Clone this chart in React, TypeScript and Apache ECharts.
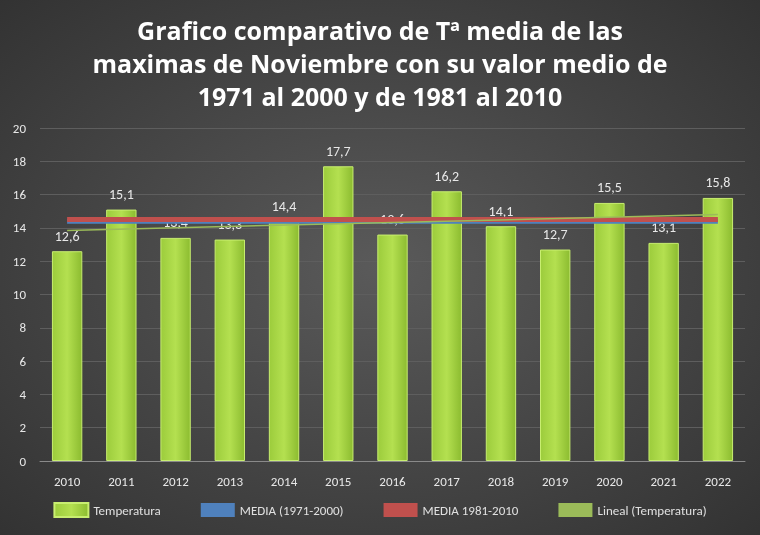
import React, { useEffect, useRef } from "react";
import * as echarts from "echarts";

const years = ["2010","2011","2012","2013","2014","2015","2016","2017","2018","2019","2020","2021","2022"];
const temperatura = [12.6,15.1,13.4,13.3,14.4,17.7,13.6,16.2,14.1,12.7,15.5,13.1,15.8];
const media7100 = [14.4,14.4,14.4,14.4,14.4,14.4,14.4,14.4,14.4,14.4,14.4,14.4,14.4];
const media8110 = [14.5,14.5,14.5,14.5,14.5,14.5,14.5,14.5,14.5,14.5,14.5,14.5,14.5];
const lineal = [13.85,null,null,null,null,null,null,null,null,null,null,null,14.8];

export default function App() {
  const ref = useRef<HTMLDivElement>(null);
  useEffect(() => {
    const chart = echarts.init(ref.current!, null, { renderer: "svg" });
    const font = "Calibri, 'Open Sans', 'Liberation Sans', sans-serif";
    chart.setOption({
      animation: false,
      backgroundColor: {
        type: "radial", x: 0.5, y: 0.5, r: 0.75,
        colorStops: [{ offset: 0, color: "#5a5a5a" }, { offset: 1, color: "#303030" }],
      },
      textStyle: { fontFamily: font },
      title: {
        text: "Grafico comparativo de Tª media de las\nmaximas de Noviembre con su valor medio de\n1971 al 2000 y de 1981 al 2010",
        left: "center", top: 8,
        textStyle: { color: "#ffffff", fontSize: 25, fontWeight: "bold", lineHeight: 33, fontFamily: "'Open Sans', sans-serif" },
      },
      legend: {
        bottom: 12, itemGap: 40, itemWidth: 34,
        textStyle: { color: "#e0e0e0", fontSize: 13 },
        data: [
          { name: "Temperatura", icon: "rect", itemHeight: 8 },
          { name: "MEDIA (1971-2000)", icon: "rect", itemHeight: 4 },
          { name: "MEDIA 1981-2010", icon: "rect", itemHeight: 4 },
          { name: "Lineal (Temperatura)", icon: "rect", itemHeight: 2 },
        ],
      },
      grid: { left: 40, right: 15, top: 128, bottom: 74 },
      xAxis: {
        type: "category", data: years,
        axisLine: { lineStyle: { color: "#8a8a8a" } },
        axisTick: { show: false },
        axisLabel: { color: "#e8e8e8", fontSize: 13, margin: 14 },
      },
      yAxis: {
        type: "value", min: 0, max: 20, interval: 2,
        axisLabel: { color: "#e8e8e8", fontSize: 13, margin: 14 },
        splitLine: { lineStyle: { color: "#5e5e5e" } },
      },
      series: [
        {
          name: "Temperatura", type: "bar", data: temperatura, barWidth: "56%",
          itemStyle: {
            color: {
              type: "linear", x: 0, y: 0, x2: 1, y2: 0,
              colorStops: [{ offset: 0, color: "#9ccc3c" }, { offset: 0.5, color: "#b4e050" }, { offset: 1, color: "#8cbc30" }],
            },
            borderColor: "#c8ee70", borderWidth: 1,
          },
          label: {
            show: true, position: "top", distance: 8, color: "#e8e8e8", fontSize: 14,
            formatter: (p: any) => String(p.value).replace(".", ","),
          },
        },
        {
          name: "MEDIA (1971-2000)", type: "line", data: media7100, symbol: "none", z: 3,
          lineStyle: { color: "#4f81bd", width: 5 }, itemStyle: { color: "#4f81bd" },
        },
        {
          name: "MEDIA 1981-2010", type: "line", data: media8110, symbol: "none", z: 4,
          lineStyle: { color: "#c0504d", width: 5 }, itemStyle: { color: "#c0504d" },
        },
        {
          name: "Lineal (Temperatura)", type: "line", data: lineal, connectNulls: true, symbol: "none", z: 5,
          lineStyle: { color: "#9bbb59", width: 1.5 }, itemStyle: { color: "#9bbb59" },
        },
      ],
    });
    return () => chart.dispose();
  }, []);
  return <div ref={ref} style={{ position: "fixed", left: 0, top: 0, width: 760, height: 535 }} />;
}
